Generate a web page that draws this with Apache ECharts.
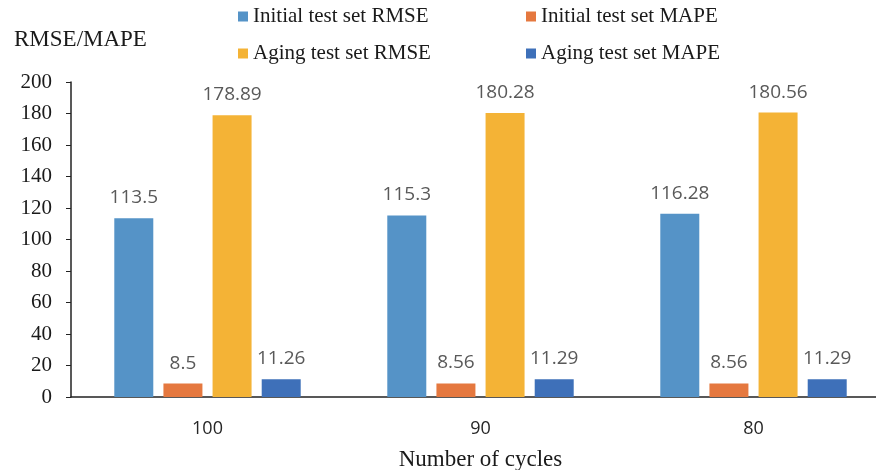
<!DOCTYPE html>
<html>
<head>
<meta charset="utf-8">
<script src="https://cdn.jsdelivr.net/npm/echarts@6/dist/echarts.min.js"></script>
<style>
  html, body { margin: 0; padding: 0; background: #fff; overflow: hidden; }
  #wrap { width: 876px; height: 470px; overflow: hidden; }
  /* plot area runs slightly past the right edge of the frame */
  #chart { width: 891px; height: 470px; }
</style>
</head>
<body>
<div id="wrap"><div id="chart"></div></div>
<script>
// Cycle counts along the x axis
const categories = ['100', '90', '80'];

// Error metrics per test set
const initialRmse = [113.5, 115.3, 116.28];
const initialMape = [8.5, 8.56, 8.56];
const agingRmse = [178.89, 180.28, 180.56];
const agingMape = [11.26, 11.29, 11.29];

const seriesNames = [
  'Initial test set RMSE',
  'Initial test set MAPE',
  'Aging test set RMSE',
  'Aging test set MAPE'
];
const seriesValues = [initialRmse, initialMape, agingRmse, agingMape];
const colors = ['#5593C7', '#E5783F', '#F4B336', '#3E70B9'];

const serif = '"Liberation Serif", "Times New Roman", serif';
const sans = '"Open Sans", "Noto Sans", sans-serif';

const chart = echarts.init(document.getElementById('chart'));

const legendCommon = {
  orient: 'vertical',
  top: 0,
  itemWidth: 10,
  itemHeight: 10,
  itemGap: 14,
  icon: 'rect',
  textStyle: { fontFamily: serif, fontSize: 21, color: '#1a1a1a', lineHeight: 23 }
};

chart.setOption({
  animation: false,
  color: colors,
  title: {
    text: 'RMSE/MAPE',
    left: 9,
    top: 23,
    textStyle: { fontFamily: serif, fontSize: 23, fontWeight: 'normal', color: '#1a1a1a' }
  },
  legend: [
    Object.assign({ left: 233, data: [seriesNames[0], seriesNames[2]] }, legendCommon),
    Object.assign({ left: 521, data: [seriesNames[1], seriesNames[3]] }, legendCommon)
  ],
  grid: {
    left: 71, top: 82, right: 1, height: 315,
    containLabel: false,
    outerBoundsMode: 'none'
  },
  xAxis: {
    type: 'category',
    data: categories,
    name: 'Number of cycles',
    nameLocation: 'middle',
    nameGap: 51,
    nameTextStyle: { fontFamily: serif, fontSize: 23, color: '#1a1a1a' },
    axisLine: { lineStyle: { color: '#222', width: 1.5 } },
    axisTick: { show: false },
    axisLabel: { fontFamily: sans, fontSize: 18, color: '#262626', margin: 23 }
  },
  yAxis: {
    type: 'value',
    min: 0,
    max: 200,
    interval: 20,
    axisLine: { show: true, lineStyle: { color: '#222', width: 1.5 } },
    axisTick: { show: true, inside: false, length: 5, lineStyle: { color: '#222' } },
    splitLine: { show: false },
    axisLabel: { fontFamily: serif, fontSize: 21, color: '#1a1a1a', margin: 19 }
  },
  series: seriesNames.map((name, i) => ({
    name: name,
    type: 'bar',
    data: seriesValues[i],
    barWidth: 39,
    barGap: '26%',
    itemStyle: { color: colors[i] },
    label: {
      show: true,
      position: 'top',
      distance: 11,
      fontFamily: sans,
      fontSize: 19,
      color: '#595959'
    }
  }))
});
</script>
</body>
</html>
